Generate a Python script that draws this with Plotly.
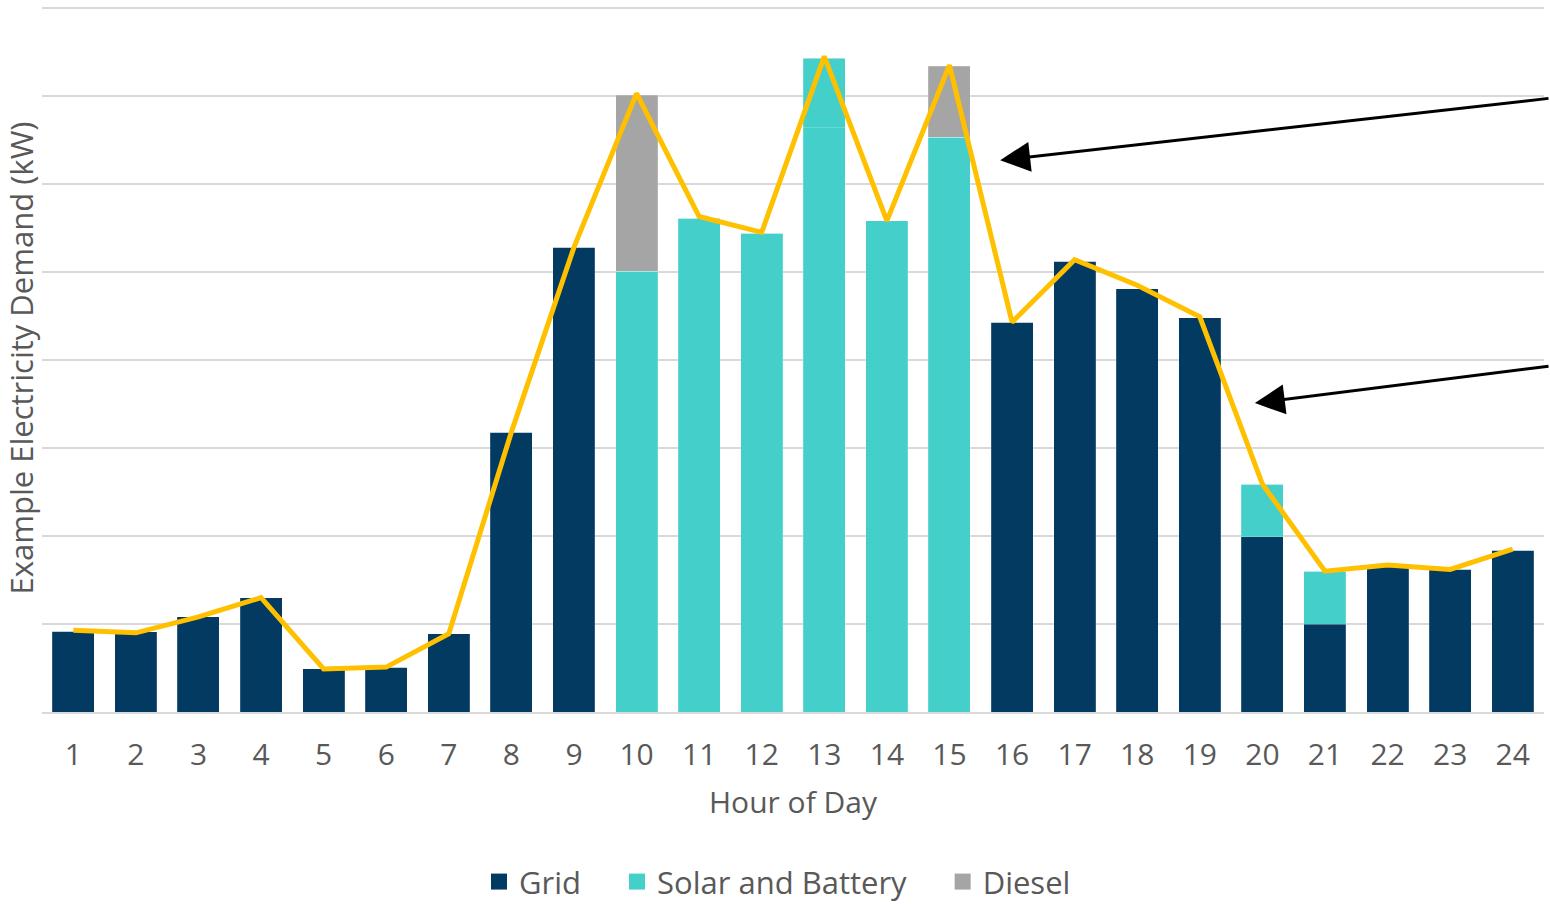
import plotly.graph_objects as go

hours = list(range(1, 25))
tick_labels = [str(h) for h in hours]

grid = [0.92, 0.91, 1.08, 1.30, 0.49, 0.51, 0.89, 3.18, 5.28, 0, 0, 0, 0, 0, 0,
        4.43, 5.12, 4.81, 4.48, 1.99, 1.00, 1.66, 1.62, 1.84]
solar = [0, 0, 0, 0, 0, 0, 0, 0, 0, 5.01, 5.61, 5.44, 6.64, 5.58, 6.53,
         0, 0, 0, 0, 0.60, 0.60, 0, 0, 0]
solar_extra = [0, 0, 0, 0, 0, 0, 0, 0, 0, 0, 0, 0, 0.79, 0, 0,
               0, 0, 0, 0, 0, 0, 0, 0, 0]
diesel = [0, 0, 0, 0, 0, 0, 0, 0, 0, 2.00, 0, 0, 0, 0, 0.81,
          0, 0, 0, 0, 0, 0, 0, 0, 0]
demand = [0.93, 0.90, 1.08, 1.30, 0.49, 0.51, 0.89, 3.18, 5.28, 7.03, 5.63, 5.45,
          7.45, 5.58, 7.35, 4.43, 5.14, 4.85, 4.49, 2.59, 1.60, 1.67, 1.62, 1.85]
legend_names = ["Grid", "Solar and Battery", "Diesel"]

C_GRID = "#033A61"
C_SOLAR = "#44CFCB"
C_DIESEL = "#A5A5A5"
C_LINE = "#FFC000"
FONT = "Open Sans"
TXT = "#595959"

bw = 0.67
edge = dict(width=0.6, color="rgba(255,255,255,0.3)")

fig = go.Figure()
fig.add_trace(go.Bar(x=hours, y=grid, name="Grid", marker=dict(color=C_GRID, line=edge), width=bw,
                     showlegend=False))
fig.add_trace(go.Bar(x=hours, y=solar, name="Solar and Battery", marker=dict(color=C_SOLAR, line=edge),
                     width=bw, showlegend=False))
fig.add_trace(go.Bar(x=hours, y=solar_extra, name="Solar and Battery", showlegend=False,
                     marker=dict(color=C_SOLAR, line=edge), width=bw))
fig.add_trace(go.Bar(x=hours, y=diesel, name="Diesel", marker=dict(color=C_DIESEL, line=edge), width=bw,
                     showlegend=False))
fig.add_trace(go.Scatter(x=hours, y=demand, mode="lines", showlegend=False,
                         line=dict(color=C_LINE, width=5)))

# legend entries with larger square swatches
for nm, col in zip(legend_names, [C_GRID, C_SOLAR, C_DIESEL]):
    fig.add_trace(go.Scatter(x=[None], y=[None], mode="markers", name=nm + "\u2003",
                             marker=dict(symbol="square", size=20, color=col)))

fig.add_annotation(x=15.81, y=6.27, xref="x", yref="y", ax=570, ay=-62,
                   showarrow=True, arrowhead=2, arrowsize=2, arrowwidth=3, arrowcolor="black", text="")
fig.add_annotation(x=19.88, y=3.51, xref="x", yref="y", ax=315, ay=-37,
                   showarrow=True, arrowhead=2, arrowsize=2, arrowwidth=3, arrowcolor="black", text="")

fig.update_layout(
    width=1550, height=904,
    margin=dict(l=42, r=6, t=4, b=192, autoexpand=False),
    paper_bgcolor="white", plot_bgcolor="white",
    barmode="stack",
    font=dict(family=FONT, color=TXT),
    legend=dict(orientation="h", x=0.5, xanchor="center", y=-0.24, yanchor="middle",
                font=dict(size=31, color=TXT), itemwidth=30, traceorder="normal",
                itemsizing="trace"),
    xaxis=dict(range=[0.5, 24.5], tickmode="array", tickvals=hours, ticktext=tick_labels,
               tickfont=dict(size=30, color=TXT), ticks="outside", ticklen=15, tickcolor="rgba(0,0,0,0)",
               showgrid=False, showline=True, linecolor="#D9D9D9", linewidth=2,
               title=dict(text="Hour of Day", font=dict(size=30, color=TXT), standoff=19)),
    yaxis=dict(range=[0, 8.045], tickmode="array", tickvals=[1, 2, 3, 4, 5, 6, 7, 8],
               showticklabels=False, showgrid=True, gridcolor="#D9D9D9",
               gridwidth=2, zeroline=False,
               title=dict(text="Example Electricity Demand (kW)", font=dict(size=31, color=TXT), standoff=2)),
    showlegend=True,
)

fig.write_html("out.html")
